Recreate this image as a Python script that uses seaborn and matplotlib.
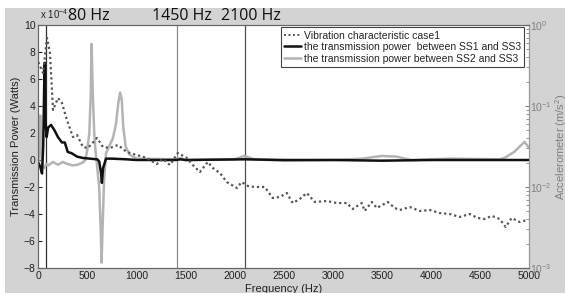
import matplotlib
matplotlib.use("Agg")
import matplotlib.pyplot as plt
import seaborn as sns
import numpy as np
from matplotlib.patches import Rectangle
from matplotlib.lines import Line2D

sns.set_style("white")
plt.rcParams["font.family"] = ["Liberation Sans", "DejaVu Sans"]
plt.rcParams["mathtext.fontset"] = "custom"
plt.rcParams["mathtext.rm"] = "Liberation Sans"
plt.rcParams["mathtext.it"] = "Liberation Sans:italic"
plt.rcParams["mathtext.bf"] = "Liberation Sans:bold"

# vibration characteristic case1 (accelerometer, m/s^2, right log axis)
vib_freq = [0, 48, 89, 119, 150, 201, 241, 292, 353, 394, 455, 506, 598, 659, 730,
            811, 903, 1005, 1107, 1137, 1208, 1269, 1341, 1422, 1514, 1575, 1646,
            1728, 1778, 1850, 1921, 2023, 2073, 2135, 2206, 2308, 2389, 2460, 2532,
            2593, 2664, 2735, 2817, 2939, 3041, 3143, 3204, 3296, 3326, 3398, 3449,
            3561, 3632, 3683, 3785, 3887, 3989, 4090, 4192, 4294, 4396, 4477, 4548,
            4620, 4701, 4762, 4823, 4904, 4986]
vib_acc = [0.349, 0.255, 0.691, 0.451, 0.0893, 0.1255, 0.109, 0.0672, 0.0414, 0.0439,
           0.0312, 0.0303, 0.0403, 0.0312, 0.0303, 0.0330, 0.0270, 0.0248, 0.0228,
           0.0215, 0.0192, 0.0222, 0.0187, 0.0263, 0.0228, 0.0187, 0.0153, 0.0204,
           0.0172, 0.0149, 0.0115, 0.00972, 0.0115, 0.0103, 0.0100, 0.0100, 0.00731,
           0.00753, 0.00843, 0.00634, 0.00711, 0.00843, 0.00653, 0.00672, 0.00634,
           0.00634, 0.00535, 0.00634, 0.00506, 0.00653, 0.00551, 0.00653, 0.00551,
           0.00520, 0.00566, 0.00506, 0.00520, 0.00477, 0.00464, 0.00427, 0.00464,
           0.00414, 0.00403, 0.00440, 0.00403, 0.00321, 0.00414, 0.00370, 0.00392]

# transmission power between SS1 and SS3 (x 10^-4 W)
ss1_freq = [0, 20, 38, 50, 60, 65, 72, 85, 100, 130, 165, 200, 240, 270, 300, 340,
            395, 455, 600, 620, 640, 648, 660, 690, 750, 900, 1000, 1400, 1450, 1500,
            2100, 2500, 3000, 3500, 4000, 4500, 5000]
ss1_power = [-0.2, -0.5, -1.0, 1.0, 5.5, 7.2, 3.0, 1.7, 2.4, 2.6, 2.2, 1.7, 1.3, 1.3,
             0.6, 0.5, 0.25, 0.15, 0.05, -0.1, -1.0, -1.7, -0.6, 0.1, 0.1, 0.05, 0.0,
             0.0, 0.05, 0.0, 0.05, 0.0, 0.0, -0.05, 0.0, 0.0, 0.0]

# transmission power between SS2 and SS3 (x 10^-4 W)
ss2_freq = [0, 10, 20, 30, 40, 60, 80, 100, 150, 200, 250, 300, 350, 400, 450, 480,
            500, 520, 535, 543, 555, 570, 585, 600, 620, 635, 645, 655, 670, 690, 720,
            760, 790, 815, 833, 850, 865, 890, 930, 1000, 1400, 1450, 1500, 2000, 2100,
            2200, 2500, 3000, 3300, 3500, 3650, 3800, 4200, 4700, 4750, 4850, 4955,
            5000]
ss2_power = [-0.3, 1.0, 3.3, 0.5, -0.5, -0.6, -0.3, -0.4, -0.15, -0.35, -0.15, -0.3,
             -0.4, -0.35, -0.2, 0.0, 0.8, 2.0, 5.0, 8.6, 5.0, 2.0, 0.5, -0.5, -2.0,
             -5.0, -7.6, -5.0, -1.5, 0.5, 1.0, 1.6, 2.6, 4.2, 5.0, 4.5, 2.5, 1.0, 0.4,
             0.1, 0.05, 0.15, 0.0, 0.05, 0.3, 0.05, -0.05, 0.0, 0.1, 0.3, 0.25, 0.0,
             0.1, 0.05, 0.15, 0.6, 1.35, 0.9]

marker_freqs = [80, 1410, 2110]
marker_labels = ["80 Hz", "1450 Hz", "2100 Hz"]
marker_colors = ["#303030", "#8a8a8a", "#505050"]

W, H = 565, 293
fig = plt.figure(figsize=(W / 100, H / 100), dpi=100)
fig.patch.set_facecolor("white")
fig.patches.append(Rectangle((5 / W, 0), 1, (H - 8) / H, transform=fig.transFigure,
                             facecolor="#d3d3d3", edgecolor="none", zorder=-10))

ax = fig.add_axes([38.3 / W, (H - 268) / H, (529 - 38.3) / W, 243 / H])
ax.set_facecolor("white")
ax2 = ax.twinx()

for f, c in zip(marker_freqs, marker_colors):
    ax.axvline(f, color=c, lw=0.9, zorder=1)

sns.lineplot(x=ss2_freq, y=ss2_power, ax=ax, color="#b4b4b4", lw=1.8, zorder=2)
sns.lineplot(x=ss1_freq, y=ss1_power, ax=ax, color="#111111", lw=1.8, zorder=3)
sns.lineplot(x=vib_freq, y=vib_acc, ax=ax2, color="#555555", lw=1.6,
             linestyle=(0, (1, 1.3)), zorder=4)

ax.set_xlim(0, 5000)
ax.set_ylim(-8, 10)
ax.set_xticks(range(0, 5001, 500))
ax.set_yticks(range(-8, 11, 2))
ax2.set_yscale("log")
ax2.set_ylim(1e-3, 1e0)
ax2.set_yticks([1e-3, 1e-2, 1e-1, 1e0])
ax2.set_yticklabels([r"$10^{-3}$", r"$10^{-2}$", r"$10^{-1}$", r"$10^{0}$"])

ax.tick_params(axis="both", direction="in", length=3, labelsize=7.5, colors="#222222",
               pad=2, top=False)
ax2.tick_params(axis="y", which="both", direction="in", labelsize=7.5,
                colors="#808080", pad=1)
ax2.tick_params(axis="y", which="major", length=3)
ax2.tick_params(axis="y", which="minor", length=2)

for a in (ax, ax2):
    for s in a.spines.values():
        s.set_color("#666666")
        s.set_linewidth(0.8)
ax2.spines["right"].set_color("#999999")

ax.set_xlabel("Frequency (Hz)", fontsize=8, labelpad=2.5, color="#222222")
ax.set_ylabel("Transmission Power (Watts)", fontsize=8, labelpad=2, color="#222222")
ax2.set_ylabel(r"Accelerometer (m/s$^2$)", fontsize=8, color="#808080")
ax2.yaxis.set_label_coords((553 - 38.3) / 490.7, 0.5)
ax.grid(False)
ax2.grid(False)

fig.text(40 / W, (H - 19) / H, r"x 10$^{-4}$", fontsize=7, color="#222222",
         ha="left", va="baseline")
for lab, xc in zip(marker_labels, [89, 182, 251]):
    fig.text(xc / W, (H - 20) / H, lab, fontsize=11.5, family="Open Sans",
             ha="center", va="baseline", color="#111111")

handles = [Line2D([], [], color="#555555", lw=1.4, linestyle=(0, (1, 1.3))),
           Line2D([], [], color="#111111", lw=1.8),
           Line2D([], [], color="#b4b4b4", lw=1.8)]
labels = ["Vibration characteristic case1",
          "the transmission power  between SS1 and SS3",
          "the transmission power between SS2 and SS3"]
leg = ax2.legend(handles, labels, loc="upper right", bbox_to_anchor=(0.99, 0.99),
                 fontsize=7.5, frameon=True, fancybox=False, framealpha=1,
                 edgecolor="#444444", handlelength=1.6, handletextpad=0.3,
                 borderpad=0.3, labelspacing=0.15, borderaxespad=0)
leg.get_frame().set_linewidth(0.8)

fig.savefig("out.png", dpi=100, facecolor=fig.get_facecolor())
